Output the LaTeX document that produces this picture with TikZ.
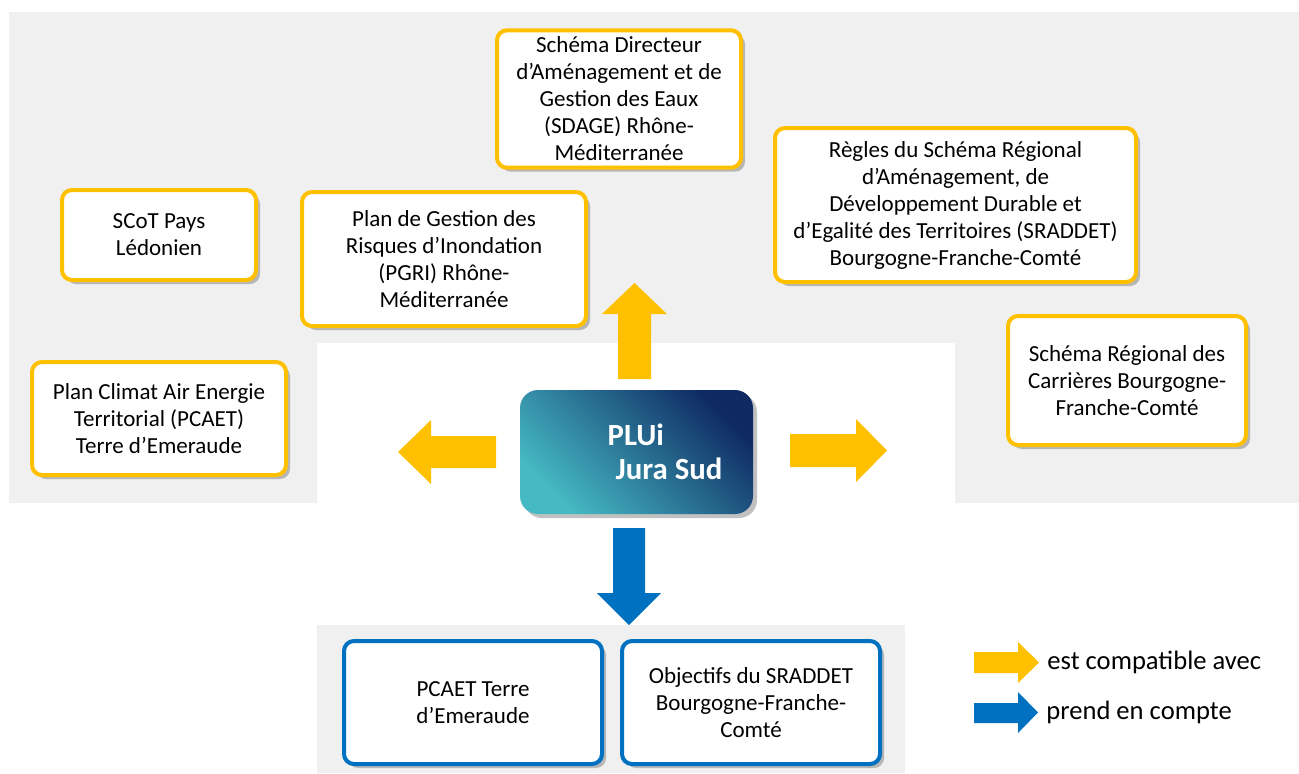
\documentclass[tikz,border=0pt]{standalone}
\usepackage{fontspec}
\setmainfont{Carlito}
\usetikzlibrary{positioning, shadows}

\definecolor{docyellow}{HTML}{FFC000}
\definecolor{docblue}{HTML}{0070C0}
\definecolor{docgray}{HTML}{F0F0F0}
\definecolor{docteal}{HTML}{45BAC4}
\definecolor{docnavy}{HTML}{0F2A63}

\tikzset{
  docbox/.style={draw=docyellow, line width=2pt, rounded corners=5pt, fill=white, align=center,
    font=\fontsize{11.5}{13.5}\selectfont,
    drop shadow={shadow xshift=2pt, shadow yshift=-2pt, opacity=0.35, fill=black!70}},
  bluebox/.style={docbox, draw=docblue},
  yarrow/.style={fill=docyellow},
  barrow/.style={fill=docblue},
  legendtext/.style={font=\fontsize{13.3}{15}\selectfont, anchor=west, inner sep=0pt}
}

\begin{document}
\begin{tikzpicture}[x=0.5pt, y=-0.5pt]
\useasboundingbox (0,0) rectangle (1299,773);

\fill[docgray] (9,12) -- (1299,12) -- (1299,503) -- (955,503) -- (955,343) -- (317,343) -- (317,503) -- (9,503) -- cycle;
\fill[docgray] (317,625) rectangle (905,773);

\node[docbox, minimum width=122pt, minimum height=67pt] (sdage) at (619,99) {Schéma Directeur\\d’Aménagement et de\\Gestion des Eaux\\(SDAGE) Rhône-\\Méditerranée};
\node[docbox, minimum width=180.5pt, minimum height=77pt] (sraddet) at (955.5,205) {Règles du Schéma Régional\\d’Aménagement, de\\Développement Durable et\\d’Egalité des Territoires (SRADDET)\\Bourgogne-Franche-Comté};
\node[docbox, minimum width=97pt, minimum height=45pt] (scot) at (159,235) {SCoT Pays\\Lédonien};
\node[docbox, minimum width=142pt, minimum height=67pt] (pgri) at (444,259) {Plan de Gestion des\\Risques d’Inondation\\(PGRI) Rhône-\\Méditerranée};
\node[docbox, minimum width=119pt, minimum height=64.5pt] (src) at (1127,380.5) {Schéma Régional des\\Carrières Bourgogne-\\Franche-Comté};
\node[docbox, minimum width=127pt, minimum height=56.5pt] (pcaet) at (159,418.5) {Plan Climat Air Energie\\Territorial (PCAET)\\Terre d’Emeraude};

\node[bluebox, minimum width=129pt, minimum height=61.5pt] (pcaetb) at (473,702.5) {PCAET Terre\\d’Emeraude};
\node[bluebox, minimum width=129pt, minimum height=61.5pt, right=8pt of pcaetb] (objectifs) {Objectifs du SRADDET\\Bourgogne-Franche-\\Comté};

\node[minimum width=116.5pt, minimum height=62pt, rounded corners=9pt,
  top color=docnavy, bottom color=docteal, middle color=docteal!50!docnavy, shading angle=-45,
  drop shadow={shadow xshift=2pt, shadow yshift=-2pt, opacity=0.35, fill=black!70}] (plui) at (636.5,452) {};
\node[align=left, text=white, font=\fontsize{15.4}{17}\selectfont\bfseries] (pluitext) at ([xshift=14.25pt]plui.center) {PLUi\\\hspace*{4pt}Jura Sud};

\fill[yarrow] (618,379) -- (651,379) -- (651,314) -- (667,314) -- (634.5,283) -- (602,314) -- (618,314) -- cycle;
\fill[yarrow] (496,436) -- (431,436) -- (431,420) -- (398,452) -- (431,484) -- (431,468) -- (496,468) -- cycle;
\fill[yarrow] (790,434) -- (856,434) -- (856,419) -- (887,450.5) -- (856,482) -- (856,467) -- (790,467) -- cycle;
\fill[barrow] (613,528) -- (645,528) -- (645,593) -- (661,593) -- (629,625) -- (597,593) -- (613,593) -- cycle;

\coordinate (compat) at (1039,662.5);
\coordinate (compte) at (1038,712.5);
\fill[yarrow] (974,652) -- (1018,652) -- (1018,642) -- (compat) -- (1018,683) -- (1018,673) -- (974,673) -- cycle;
\fill[barrow] (974,703) -- (1018,703) -- (1018,692) -- (compte) -- (1018,733) -- (1018,723) -- (974,723) -- cycle;
\node[legendtext, right=4pt of compat] (compattext) {est compatible avec};
\node[legendtext, right=4pt of compte] (comptetext) {prend en compte};
\end{tikzpicture}
\end{document}
